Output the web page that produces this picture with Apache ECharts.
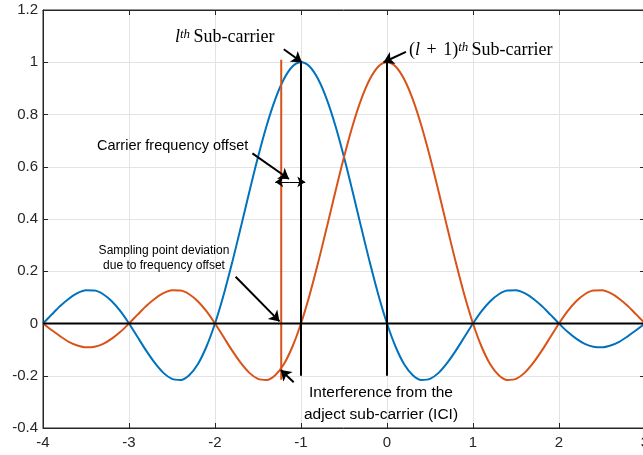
<!DOCTYPE html>
<html><head><meta charset="utf-8">
<script src="https://cdn.jsdelivr.net/npm/echarts@6/dist/echarts.min.js"></script>
<style>html,body{margin:0;padding:0;background:#fff}#c{width:643px;height:455px}</style>
</head><body><div id="c"></div>
<script>
// x positions (normalized frequency)
const xValues = [-4.0,-3.9,-3.8,-3.7,-3.6,-3.5,-3.4,-3.3,-3.2,-3.1,
 -3.0,-2.9,-2.8,-2.7,-2.6,-2.5,-2.4,-2.3,-2.2,-2.1,
 -2.0,-1.9,-1.8,-1.7,-1.6,-1.5,-1.4,-1.3,-1.2,-1.1,
 -1.0,-0.9,-0.8,-0.7,-0.6,-0.5,-0.4,-0.3,-0.2,-0.1,
 0.0,0.1,0.2,0.3,0.4,0.5,0.6,0.7,0.8,0.9,
 1.0,1.1,1.2,1.3,1.4,1.5,1.6,1.7,1.8,1.9,
 2.0,2.1,2.2,2.3,2.4,2.5,2.6,2.7,2.8,2.9,3.0];
// l-th sub-carrier (blue)
const blueValues = [0,0.034,0.067,0.095,0.116,0.127,0.126,0.112,0.085,0.047,
 0,-0.052,-0.104,-0.151,-0.189,-0.212,-0.216,-0.198,-0.156,-0.089,
 0,0.109,0.234,0.368,0.505,0.637,0.757,0.858,0.935,0.984,
 1,0.984,0.935,0.858,0.757,0.637,0.505,0.368,0.234,0.109,
 0,-0.089,-0.156,-0.198,-0.216,-0.212,-0.189,-0.151,-0.104,-0.052,
 0,0.047,0.085,0.112,0.126,0.127,0.116,0.095,0.067,0.034,
 0,-0.032,-0.058,-0.078,-0.089,-0.091,-0.084,-0.070,-0.049,-0.025,0];
// (l+1)-th sub-carrier (red)
const redValues = [0,-0.025,-0.049,-0.070,-0.084,-0.091,-0.089,-0.078,-0.058,-0.032,
 0,0.034,0.067,0.095,0.116,0.127,0.126,0.112,0.085,0.047,
 0,-0.052,-0.104,-0.151,-0.189,-0.212,-0.216,-0.198,-0.156,-0.089,
 0,0.109,0.234,0.368,0.505,0.637,0.757,0.858,0.935,0.984,
 1,0.984,0.935,0.858,0.757,0.637,0.505,0.368,0.234,0.109,
 0,-0.089,-0.156,-0.198,-0.216,-0.212,-0.189,-0.151,-0.104,-0.052,
 0,0.047,0.085,0.112,0.126,0.127,0.116,0.095,0.067,0.034,0];
// vertical marker lines
const carrierX = [-1, 0];
const carrierSpan = [-0.2, 1.0];
const offsetX = -1.23;
const offsetSpan = [-0.215, 1.01];
const baseline = [[-4, 0], [3, 0]];
// annotation arrows [tail, head]
const arrows = [
 [[-1.20, 1.05], [-0.99, 1.0]],
 [[0.22, 1.04], [-0.04, 1.0]],
 [[-1.565, 0.651], [-1.14, 0.553]],
 [[-1.76, 0.179], [-1.25, 0.008]],
 [[-1.085, -0.225], [-1.235, -0.178]]
];
const cfoArrow = [[-1.13, 0.542], [-1.30, 0.542], [-0.95, 0.542]];
const yTicks = {min: -0.4, max: 1.2, interval: 0.2};
const xTicks = {min: -4, max: 3, interval: 1};

const blue = '#0072BD', red = '#D95319', ink = '#262626';
const chart = echarts.init(document.getElementById('c'), null, {renderer: 'canvas'});
const fmt = v => String(parseFloat(Number(v).toFixed(1)));
const axisCommon = {
  axisLine: {show: true, onZero: false, lineStyle: {color: ink, width: 1}},
  axisTick: {show: true, inside: true, length: 5, lineStyle: {color: ink}},
  splitLine: {show: false}
};
const serif = {
  i: {fontFamily: 'Liberation Serif', fontStyle: 'italic', fontSize: 18, fill: '#000', verticalAlign: 'bottom'},
  s: {fontFamily: 'Liberation Serif', fontStyle: 'italic', fontSize: 13, fill: '#000', verticalAlign: 'top'},
  r: {fontFamily: 'Liberation Serif', fontSize: 18, fill: '#000', verticalAlign: 'bottom'},
  p: {fontFamily: 'Liberation Serif', fontSize: 18, fill: '#000', verticalAlign: 'bottom', padding: [0, 2, 0, 2]}
};
const option = {
  animation: false,
  grid: {left: 43, top: 10, width: 602, height: 418, containLabel: false, outerBoundsMode: 'none',
    show: true, borderColor: ink, borderWidth: 1, backgroundColor: 'transparent'},
  xAxis: [
    Object.assign({}, axisCommon, {type: 'value', min: xTicks.min, max: xTicks.max, interval: xTicks.interval,
      axisLabel: {color: ink, fontSize: 15, fontFamily: 'Liberation Sans', margin: 7, formatter: fmt},
      splitLine: {show: true, lineStyle: {color: '#e3e3e3', width: 1}}}),
    Object.assign({}, axisCommon, {type: 'value', position: 'top', min: xTicks.min, max: xTicks.max, interval: xTicks.interval,
      axisLabel: {show: false}})
  ],
  yAxis: [
    Object.assign({}, axisCommon, {type: 'value', min: yTicks.min, max: yTicks.max, interval: yTicks.interval,
      axisLabel: {color: ink, fontSize: 15, fontFamily: 'Liberation Sans', margin: 5, formatter: fmt},
      splitLine: {show: true, lineStyle: {color: '#e3e3e3', width: 1}}}),
    Object.assign({}, axisCommon, {type: 'value', position: 'right', min: yTicks.min, max: yTicks.max, interval: yTicks.interval,
      axisLabel: {show: false}})
  ],
  series: [
    {type: 'line', data: xValues.map((x, i) => [x, blueValues[i]]), smooth: 0.3, showSymbol: false,
      lineStyle: {color: blue, width: 2}, z: 3},
    {type: 'line', data: xValues.map((x, i) => [x, redValues[i]]), smooth: 0.3, showSymbol: false,
      lineStyle: {color: red, width: 2}, z: 3},
    {type: 'line', data: [[offsetX, offsetSpan[0]], [offsetX, offsetSpan[1]]], showSymbol: false,
      lineStyle: {color: red, width: 2}, z: 4},
    ...carrierX.map(cx => ({type: 'line', data: [[cx, carrierSpan[0]], [cx, carrierSpan[1]]], showSymbol: false,
      lineStyle: {color: '#000', width: 2}, z: 5})),
    {type: 'line', data: baseline, showSymbol: false, lineStyle: {color: '#000', width: 2}, z: 5},
    {type: 'lines', coordinateSystem: 'cartesian2d', z: 6,
      symbol: ['none', 'arrow'], symbolSize: [0, 10],
      lineStyle: {color: '#000', width: 2, opacity: 1},
      data: arrows.map(a => ({coords: a}))},
    {type: 'lines', coordinateSystem: 'cartesian2d', z: 6,
      symbol: ['none', 'arrow'], symbolSize: [0, 8],
      lineStyle: {color: '#000', width: 1, opacity: 1},
      data: [{coords: [cfoArrow[0], cfoArrow[1]]}, {coords: [cfoArrow[0], cfoArrow[2]]}]}
  ],
  graphic: [
    {type: 'text', left: 175, top: 28, z: 10, style: {
      text: '{i|l}{s|th} {r|Sub-carrier}', rich: serif}},
    {type: 'text', left: 409, top: 41, z: 10, style: {
      text: '{r|(}{i|l}{p| + }{r|1)}{s|th} {r|Sub-carrier}', rich: serif}},
    {type: 'text', x: 97, y: 146, z: 10, style: {text: 'Carrier frequency offset',
      font: '14.5px "Liberation Sans"', fill: '#000', verticalAlign: 'middle'}},
    {type: 'text', x: 164, y: 258, z: 10, style: {text: 'Sampling point deviation\ndue to frequency offset',
      font: '12px "Liberation Sans"', fill: '#000', align: 'center', verticalAlign: 'middle', lineHeight: 15}},
    {type: 'text', x: 381, y: 404, z: 10, style: {text: 'Interference from the\nadject sub-carrier (ICI)',
      font: '15.5px "Liberation Sans"', fill: '#000', align: 'center', verticalAlign: 'middle', lineHeight: 22}}
  ]
};
chart.setOption(option);
</script></body></html>
